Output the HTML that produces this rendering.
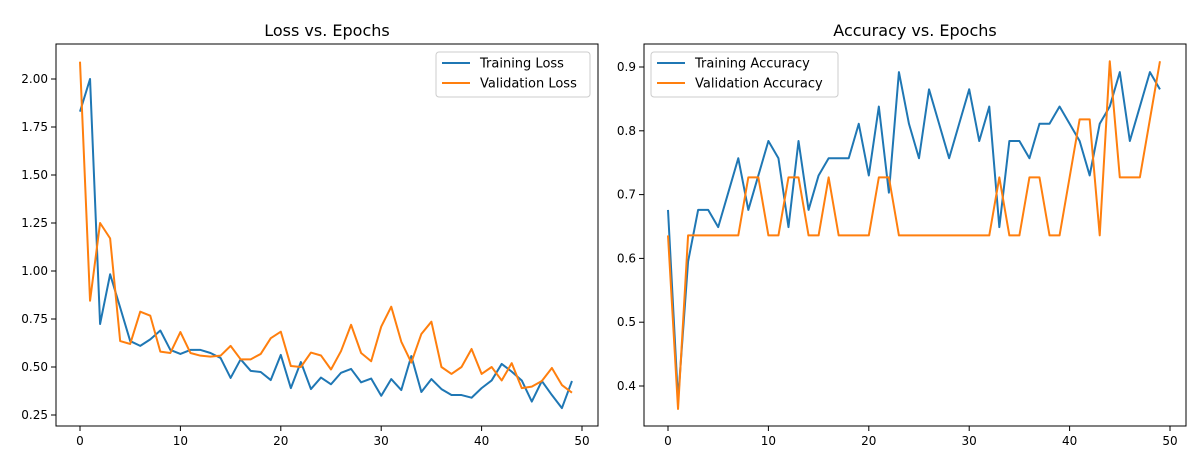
<!DOCTYPE html>
<html><head><meta charset="utf-8"><style>
html,body{margin:0;padding:0;background:#fff;}
svg{display:block;font-family:"DejaVu Sans","Liberation Sans",sans-serif;}
</style></head><body>
<svg id="c" width="1200" height="472" viewBox="0 0 1200 472"></svg>
<script>
const epochs = Array.from({length:50},(_,i)=>i);
const trainLoss = [1.83,2.00,0.724,0.983,0.81,0.635,0.61,0.644,0.69,0.589,0.568,0.589,0.589,0.573,0.547,0.443,0.54,0.48,0.474,0.432,0.563,0.39,0.526,0.385,0.445,0.41,0.47,0.49,0.42,0.44,0.35,0.437,0.38,0.557,0.37,0.437,0.385,0.354,0.354,0.34,0.39,0.43,0.516,0.476,0.43,0.32,0.427,0.354,0.286,0.427];
const valLoss = [2.09,0.845,1.25,1.17,0.635,0.62,0.788,0.767,0.58,0.573,0.682,0.573,0.559,0.554,0.559,0.61,0.54,0.54,0.568,0.65,0.684,0.505,0.5,0.575,0.56,0.487,0.583,0.72,0.573,0.53,0.71,0.814,0.632,0.523,0.672,0.736,0.5,0.464,0.5,0.594,0.464,0.5,0.43,0.52,0.39,0.398,0.427,0.495,0.406,0.366];
const trainAcc = [0.676,0.378,0.595,0.676,0.676,0.649,0.703,0.757,0.676,0.730,0.784,0.757,0.649,0.784,0.676,0.730,0.757,0.757,0.757,0.811,0.730,0.838,0.703,0.892,0.811,0.757,0.865,0.811,0.757,0.811,0.865,0.784,0.838,0.649,0.784,0.784,0.757,0.811,0.811,0.838,0.811,0.784,0.730,0.811,0.838,0.892,0.784,0.838,0.892,0.865];
const valAcc = [0.636,0.364,0.636,0.636,0.636,0.636,0.636,0.636,0.727,0.727,0.636,0.636,0.727,0.727,0.636,0.636,0.727,0.636,0.636,0.636,0.636,0.727,0.727,0.636,0.636,0.636,0.636,0.636,0.636,0.636,0.636,0.636,0.636,0.727,0.636,0.636,0.727,0.727,0.636,0.636,0.727,0.818,0.818,0.636,0.909,0.727,0.727,0.727,0.818,0.909];
const xTicks = [0,10,20,30,40,50];
const lossTicks = [0.25,0.50,0.75,1.00,1.25,1.50,1.75,2.00];
const accTicks = [0.4,0.5,0.6,0.7,0.8,0.9];

const NS='http://www.w3.org/2000/svg';
const svg=document.getElementById('c');
function mk(tag,attrs,parent){const e=document.createElementNS(NS,tag);for(const k in attrs)e.setAttribute(k,attrs[k]);(parent||svg).appendChild(e);return e;}

function panel(cfg){
  const g=mk('g',{});
  
  
  const L=cfg.left,R=cfg.right,T=44,B=426;
  const xs=v=>cfg.x0+(v-0)*(cfg.x50-cfg.x0)/50;
  const ys=v=>cfg.ya+(v-cfg.va)*(cfg.yb-cfg.ya)/(cfg.vb-cfg.va);
  const t=mk('text',{x:(L+R)/2,y:36,'text-anchor':'middle','font-size':16,fill:'#000'},g);
  t.textContent=cfg.title;
  
  
  xTicks.forEach(v=>{
    const x=xs(v);
    mk('line',{x1:x,x2:x,y1:B,y2:B+5,stroke:'#000','stroke-width':1},g);
    const tx=mk('text',{x:x,y:B+19,'text-anchor':'middle','font-size':12,fill:'#000'},g);
    tx.textContent=v;
    
    
  });
  cfg.yTicks.forEach(v=>{
    const y=ys(v);
    mk('line',{x1:L-5,x2:L,y1:y,y2:y,stroke:'#000','stroke-width':1},g);
    const ty=mk('text',{x:L-8,y:y+4,'text-anchor':'end','font-size':12,fill:'#000'},g);
    ty.textContent=v.toFixed(cfg.dec);
    
    
  });
  cfg.series.forEach(s=>{
    const p=mk('polyline',{points:s.data.map((v,i)=>xs(epochs[i])+','+ys(v)).join(' '),fill:'none',stroke:s.color,'stroke-width':2,'stroke-linejoin':'round'},g);
    
    
  });
  mk('rect',{x:L,y:T,width:R-L,height:B-T,fill:'none',stroke:'#000','stroke-width':1},g);
  const lg=mk('g',{},g);
  
  
  mk('rect',{x:cfg.lx,y:52,width:cfg.lw,height:45,rx:3,fill:'#fff','fill-opacity':0.8,stroke:'#ccc'},lg);
  cfg.series.forEach((s,k)=>{
    const y=63+k*20;
    mk('line',{x1:cfg.lx+6,x2:cfg.lx+34,y1:y,y2:y,stroke:s.color,'stroke-width':2},lg);
    const lt=mk('text',{x:cfg.lx+44,y:y+4.5,'font-size':13,fill:'#000'},lg);
    lt.textContent=s.label;
    
    
  });
}
panel({name:'loss-chart',title:'Loss vs. Epochs',left:56,right:598,x0:80,x50:582,ya:415,va:0.25,yb:79,vb:2.0,yTicks:lossTicks,dec:2,lx:436,lw:154,
  series:[{id:'training-loss-line',label:'Training Loss',data:trainLoss,color:'#1f77b4'},{id:'validation-loss-line',label:'Validation Loss',data:valLoss,color:'#ff7f0e'}]});
panel({name:'accuracy-chart',title:'Accuracy vs. Epochs',left:644,right:1186,x0:668,x50:1170,ya:386,va:0.4,yb:67,vb:0.9,yTicks:accTicks,dec:1,lx:651,lw:187,
  series:[{id:'training-accuracy-line',label:'Training Accuracy',data:trainAcc,color:'#1f77b4'},{id:'validation-accuracy-line',label:'Validation Accuracy',data:valAcc,color:'#ff7f0e'}]});
</script>
</body></html>
